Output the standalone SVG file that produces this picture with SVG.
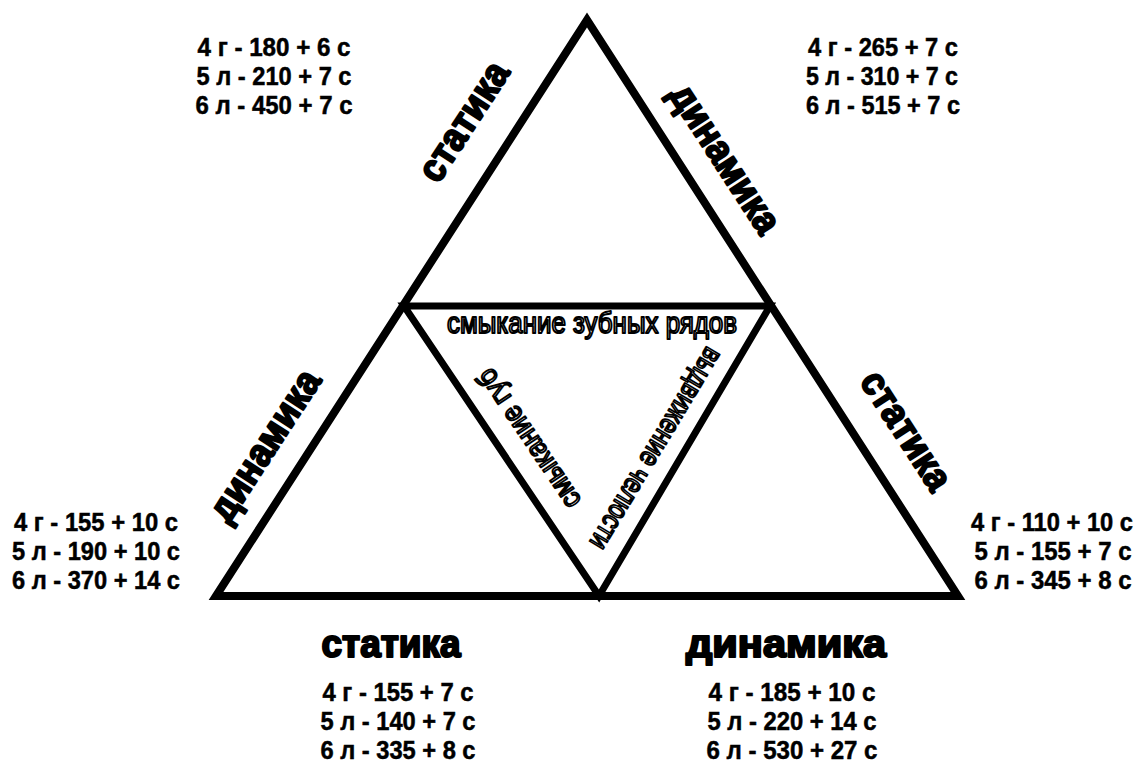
<svg xmlns="http://www.w3.org/2000/svg" width="1141" height="773" viewBox="0 0 1141 773">
<style>
.num{font-family:"Liberation Sans",Arial,sans-serif;font-weight:bold;font-size:25px;fill:#000;stroke:#000;stroke-width:0.5;text-anchor:middle}
.lbl{font-family:"Liberation Sans",Arial,sans-serif;font-weight:bold;font-size:39px;fill:#000;stroke:#000;stroke-width:2.2;stroke-linejoin:round;text-anchor:middle}
.inn{font-family:"Liberation Sans",Arial,sans-serif;font-size:29px;fill:#fff;stroke:#000;stroke-width:2;stroke-linejoin:round;text-anchor:middle}
.tri{fill:none;stroke:#000;stroke-linejoin:miter;stroke-miterlimit:10}
</style>
<rect width="1141" height="773" fill="#fff"/>
<g id="connectors">
<polygon id="outer" class="tri" stroke-width="8" points="216,596 587,20 958,596"/>
<polygon id="inner" class="tri" stroke-width="7" points="404,306 770,306 599,596"/>
</g>
<g id="inner-labels">
<text class="inn" x="592" y="333" textLength="290" lengthAdjust="spacingAndGlyphs">смыкание зубных рядов</text>
<text class="inn" transform="translate(530,438) rotate(-124)" x="0" y="8" textLength="162" lengthAdjust="spacingAndGlyphs">смыкание губ</text>
<text class="inn" transform="translate(655,448) rotate(121)" x="0" y="8" textLength="230" lengthAdjust="spacingAndGlyphs">выдвижение челюсти</text>
</g>
<g id="side-labels">
<text class="lbl" transform="translate(466,123) rotate(-57)" x="0" y="10" textLength="134" lengthAdjust="spacingAndGlyphs">статика</text>
<text class="lbl" transform="translate(723,160) rotate(57)" x="0" y="10" textLength="170" lengthAdjust="spacingAndGlyphs">динамика</text>
<text class="lbl" transform="translate(267,447) rotate(-57)" x="0" y="10" textLength="172" lengthAdjust="spacingAndGlyphs">динамика</text>
<text class="lbl" transform="translate(904,432) rotate(57)" x="0" y="10" textLength="134" lengthAdjust="spacingAndGlyphs">статика</text>
<text class="lbl" x="391" y="657" textLength="139" lengthAdjust="spacingAndGlyphs">статика</text>
<text class="lbl" x="786" y="657" textLength="200" lengthAdjust="spacingAndGlyphs">динамика</text>
</g>
<g id="values-top-left">
<text class="num" x="274" y="56" textLength="153" lengthAdjust="spacingAndGlyphs">4 г - 180 + 6 с</text>
<text class="num" x="274" y="85" textLength="155" lengthAdjust="spacingAndGlyphs">5 л - 210 + 7 с</text>
<text class="num" x="274" y="114" textLength="157" lengthAdjust="spacingAndGlyphs">6 л - 450 + 7 с</text>
</g>
<g id="values-top-right">
<text class="num" x="883" y="56" textLength="150" lengthAdjust="spacingAndGlyphs">4 г - 265 + 7 с</text>
<text class="num" x="882" y="85" textLength="152" lengthAdjust="spacingAndGlyphs">5 л - 310 + 7 с</text>
<text class="num" x="883" y="114" textLength="154" lengthAdjust="spacingAndGlyphs">6 л - 515 + 7 с</text>
</g>
<g id="values-left">
<text class="num" x="96" y="531" textLength="164" lengthAdjust="spacingAndGlyphs">4 г - 155 + 10 с</text>
<text class="num" x="96" y="560" textLength="168" lengthAdjust="spacingAndGlyphs">5 л - 190 + 10 с</text>
<text class="num" x="96" y="589" textLength="168" lengthAdjust="spacingAndGlyphs">6 л - 370 + 14 с</text>
</g>
<g id="values-right">
<text class="num" x="1052" y="531" textLength="162" lengthAdjust="spacingAndGlyphs">4 г - 110 + 10 с</text>
<text class="num" x="1053" y="560" textLength="157" lengthAdjust="spacingAndGlyphs">5 л - 155 + 7 с</text>
<text class="num" x="1053" y="589" textLength="157" lengthAdjust="spacingAndGlyphs">6 л - 345 + 8 с</text>
</g>
<g id="values-bottom-left">
<text class="num" x="398" y="701" textLength="151" lengthAdjust="spacingAndGlyphs">4 г - 155 + 7 с</text>
<text class="num" x="398" y="730" textLength="155" lengthAdjust="spacingAndGlyphs">5 л - 140 + 7 с</text>
<text class="num" x="398" y="759" textLength="155" lengthAdjust="spacingAndGlyphs">6 л - 335 + 8 с</text>
</g>
<g id="values-bottom-right">
<text class="num" x="792" y="701" textLength="167" lengthAdjust="spacingAndGlyphs">4 г - 185 + 10 с</text>
<text class="num" x="792" y="730" textLength="169" lengthAdjust="spacingAndGlyphs">5 л - 220 + 14 с</text>
<text class="num" x="792" y="759" textLength="171" lengthAdjust="spacingAndGlyphs">6 л - 530 + 27 с</text>
</g>
</svg>
